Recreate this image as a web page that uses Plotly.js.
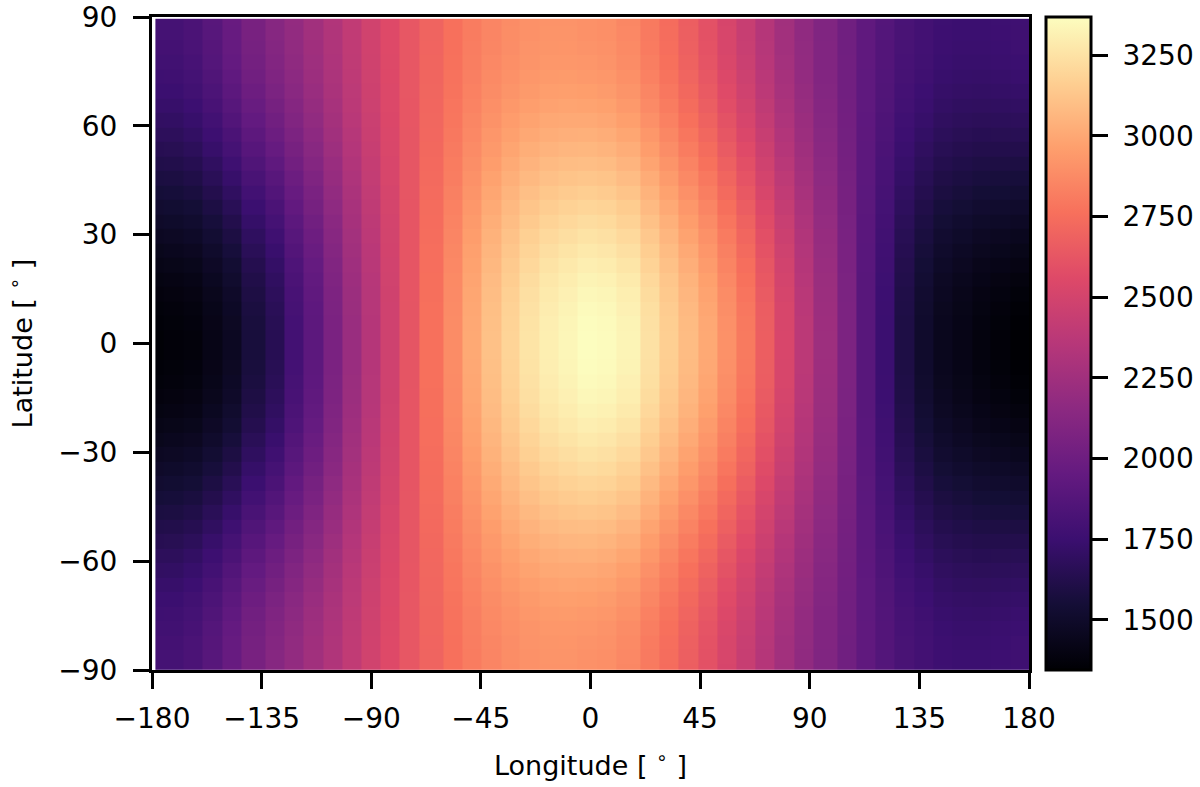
<!DOCTYPE html>
<html>
<head>
<meta charset="utf-8">
<script src="https://cdn.plot.ly/plotly-3.0.1.min.js"></script>
<style>html, body {margin: 0; padding: 0; background: white}</style>
</head>
<body>
<div id="plot" style="width:1200px;height:787px"></div>
<script>
// cell edges in degrees (a few cells are wider than the rest)
const lonEdges = [-178.6,-175.4,-167.2,-159.4,-151.1,-143.3,-133.5,-125.7,-117.9,-109.7,-101.9,-94.1,-86.3,-78.5,-70.3,-60.4,-52.6,-44.8,-36.6,-29.2,-21.0,-13.2,-5.4,2.8,10.6,20.4,28.2,36.0,44.2,52.0,59.8,67.6,75.4,83.6,91.4,101.3,109.1,116.9,124.7,132.9,140.7,148.5,156.7,164.1,172.3,180]
const latEdges = [-90,-88.5,-84.5,-80.5,-76.5,-72.5,-68.5,-64.5,-60.5,-56.5,-52.5,-48.5,-44.5,-40.5,-36.5,-32.5,-28.5,-24.5,-20.5,-16.5,-12.5,-8.5,-4.5,-0.5,3.5,7.5,11.5,15.5,19.5,23.5,27.5,31.5,35.5,39.5,43.5,47.5,51.5,55.5,59.5,63.5,67.5,71.5,75.5,79.5,83.5,87.5,89.5]

// temperature per latitude band, the map is mirrored about the equator
const lat89 = [1800,1800,1831,1891,1972,2053,2124,2185,2255,2326,2407,2488,2559,2630,2700,2761,2812,2852,2882,2903,2913,2913,2903,2893,2862,2802,2741,2670,2599,2518,2437,2346,2255,2174,2094,2013,1932,1871,1820,1790,1760,1750,1750,1760,1770]
const lat86 = [1798,1798,1829,1889,1969,2051,2122,2183,2253,2325,2406,2487,2559,2630,2700,2762,2813,2853,2884,2905,2915,2915,2905,2895,2864,2804,2743,2672,2601,2520,2439,2348,2256,2175,2095,2013,1932,1870,1819,1789,1758,1748,1748,1758,1768]
const lat82 = [1792,1792,1822,1882,1962,2044,2115,2177,2248,2321,2403,2485,2557,2630,2701,2763,2816,2857,2888,2910,2920,2921,2912,2902,2871,2810,2749,2678,2607,2525,2444,2352,2260,2178,2097,2014,1931,1869,1816,1785,1754,1744,1743,1752,1762]
const lat78 = [1781,1781,1811,1871,1950,2032,2104,2168,2240,2315,2399,2482,2556,2630,2703,2766,2820,2863,2895,2918,2930,2931,2923,2913,2882,2821,2759,2688,2616,2535,2453,2360,2267,2183,2100,2016,1930,1866,1810,1778,1746,1736,1734,1743,1752]
const lat74 = [1766,1767,1796,1855,1934,2016,2088,2155,2229,2306,2392,2477,2553,2629,2705,2770,2827,2871,2905,2930,2943,2945,2938,2928,2897,2836,2773,2702,2630,2547,2465,2371,2276,2189,2105,2018,1929,1862,1803,1768,1736,1725,1722,1730,1738]
const lat70 = [1748,1749,1778,1835,1913,1996,2068,2139,2215,2295,2385,2471,2550,2629,2707,2775,2834,2882,2918,2944,2959,2963,2957,2947,2916,2854,2791,2719,2646,2563,2480,2384,2287,2198,2110,2020,1927,1857,1794,1757,1723,1711,1707,1714,1720]
const lat66 = [1727,1728,1756,1813,1889,1973,2045,2120,2198,2283,2375,2465,2546,2628,2710,2781,2844,2894,2932,2961,2978,2983,2980,2970,2939,2875,2811,2738,2666,2582,2497,2399,2300,2207,2117,2023,1925,1851,1783,1743,1708,1695,1690,1695,1700]
const lat62 = [1702,1704,1731,1786,1861,1946,2019,2098,2179,2268,2365,2457,2541,2628,2713,2788,2854,2908,2949,2981,3000,3007,3005,2995,2964,2900,2835,2761,2688,2603,2517,2417,2315,2219,2125,2026,1923,1844,1771,1728,1691,1677,1670,1673,1676]
const lat58 = [1675,1678,1703,1758,1830,1917,1990,2074,2158,2252,2353,2448,2536,2627,2717,2795,2866,2923,2967,3002,3024,3032,3034,3024,2993,2927,2860,2787,2713,2626,2540,2437,2332,2231,2134,2030,1920,1837,1758,1710,1672,1656,1647,1649,1651]
const lat54 = [1646,1650,1674,1727,1797,1886,1960,2049,2136,2235,2341,2439,2531,2626,2721,2803,2878,2939,2987,3025,3049,3060,3063,3053,3022,2956,2888,2813,2739,2651,2563,2458,2349,2244,2143,2034,1918,1829,1743,1692,1652,1635,1624,1624,1623]
const lat50 = [1616,1620,1643,1695,1763,1853,1927,2022,2113,2217,2328,2429,2526,2625,2725,2811,2891,2956,3008,3049,3076,3089,3095,3085,3054,2986,2917,2841,2766,2677,2588,2480,2368,2258,2152,2038,1915,1821,1728,1673,1630,1612,1599,1597,1594]
const lat46 = [1585,1590,1611,1662,1728,1819,1894,1994,2089,2199,2314,2419,2520,2625,2729,2819,2905,2974,3029,3074,3103,3118,3128,3118,3087,3017,2946,2870,2795,2704,2613,2502,2387,2272,2162,2042,1912,1813,1713,1653,1608,1589,1574,1569,1565]
const lat42 = [1554,1560,1579,1629,1693,1785,1861,1967,2065,2181,2301,2410,2514,2624,2734,2828,2918,2992,3050,3098,3130,3148,3160,3150,3119,3048,2976,2899,2823,2731,2638,2525,2406,2286,2172,2046,1909,1804,1697,1634,1587,1566,1549,1542,1535]
const lat38 = [1524,1530,1548,1596,1658,1752,1828,1940,2041,2163,2288,2400,2509,2623,2738,2836,2931,3009,3071,3123,3158,3177,3192,3182,3151,3078,3005,2928,2851,2757,2664,2547,2425,2300,2182,2050,1907,1796,1682,1614,1565,1543,1523,1515,1506]
const lat34 = [1494,1501,1518,1565,1624,1720,1797,1914,2019,2145,2275,2390,2503,2622,2742,2844,2944,3026,3091,3146,3184,3205,3222,3212,3181,3108,3033,2955,2877,2782,2688,2569,2443,2313,2191,2054,1904,1788,1667,1596,1544,1521,1499,1489,1478]
const lat30 = [1466,1474,1489,1535,1592,1689,1767,1889,1997,2129,2263,2381,2498,2622,2746,2852,2956,3042,3110,3169,3209,3232,3252,3242,3211,3136,3060,2981,2903,2807,2711,2589,2460,2326,2200,2058,1901,1780,1653,1578,1524,1499,1476,1464,1451]
const lat26 = [1440,1449,1463,1507,1563,1661,1739,1866,1977,2113,2252,2373,2494,2621,2749,2859,2967,3056,3128,3189,3231,3256,3279,3269,3238,3162,3084,3005,2926,2829,2732,2608,2476,2338,2208,2061,1899,1773,1641,1561,1506,1480,1455,1441,1427]
const lat22 = [1417,1426,1439,1482,1537,1636,1715,1845,1959,2100,2242,2366,2489,2621,2752,2865,2977,3070,3143,3207,3252,3279,3303,3293,3262,3185,3107,3027,2947,2849,2751,2625,2490,2349,2215,2065,1897,1767,1629,1547,1490,1463,1436,1420,1404]
const lat18 = [1397,1406,1418,1461,1514,1614,1693,1828,1944,2088,2233,2359,2486,2620,2755,2871,2986,3081,3157,3223,3270,3298,3324,3314,3283,3205,3126,3046,2966,2866,2767,2639,2502,2358,2222,2067,1895,1761,1619,1534,1476,1448,1420,1403,1385]
const lat14 = [1381,1391,1402,1444,1496,1597,1676,1813,1931,2079,2226,2354,2483,2620,2757,2875,2993,3090,3168,3236,3284,3313,3341,3331,3300,3221,3141,3061,2980,2880,2780,2651,2512,2365,2227,2069,1893,1757,1611,1524,1465,1436,1407,1388,1370]
const lat10 = [1368,1378,1389,1430,1481,1583,1662,1802,1921,2071,2221,2350,2480,2619,2759,2878,2998,3097,3177,3246,3295,3325,3354,3344,3313,3234,3153,3073,2992,2891,2791,2660,2520,2371,2231,2071,1892,1754,1605,1515,1455,1426,1396,1377,1358]
const lat6 = [1360,1370,1380,1421,1472,1573,1653,1794,1915,2066,2217,2348,2479,2619,2760,2881,3002,3102,3183,3253,3303,3333,3363,3353,3322,3242,3161,3080,3000,2899,2798,2666,2525,2375,2233,2072,1891,1751,1600,1510,1449,1420,1389,1369,1350]
const lat2 = [1355,1365,1375,1416,1466,1568,1648,1790,1911,2063,2215,2346,2478,2619,2761,2882,3004,3105,3186,3257,3307,3338,3368,3358,3327,3247,3166,3085,3004,2903,2802,2670,2528,2377,2235,2073,1891,1750,1598,1507,1446,1416,1385,1365,1345]

// south to north
const temperature = [
  lat89, lat86, lat82, lat78, lat74, lat70, lat66, lat62, lat58, lat54, lat50, lat46,
  lat42, lat38, lat34, lat30, lat26, lat22, lat18, lat14, lat10, lat6, lat2,
  lat2, lat6, lat10, lat14, lat18, lat22, lat26, lat30, lat34, lat38, lat42,
  lat46, lat50, lat54, lat58, lat62, lat66, lat70, lat74, lat78, lat82, lat86, lat89
]

const lonTicks = [-180, -135, -90, -45, 0, 45, 90, 135, 180]
const latTicks = [-90, -60, -30, 0, 30, 60, 90]
const cbarTicks = [1500, 1750, 2000, 2250, 2500, 2750, 3000, 3250]
// leading nbsp: plotly has no padding option for colorbar labels
const cbarLabels = ["\u00a01500", "\u00a01750", "\u00a02000", "\u00a02250", "\u00a02500", "\u00a02750", "\u00a03000", "\u00a03250"]
const zMin = 1345
const zMax = 3368

const magma = [
  [0, "#000004"], [0.1, "#140e36"], [0.2, "#3b0f70"], [0.3, "#641a80"], [0.4, "#8c2981"], [0.5, "#b73779"],
  [0.6, "#de4968"], [0.7, "#f7705c"], [0.8, "#fe9f6d"], [0.9, "#fecf92"], [1, "#fcfdbf"]
]

const tickFont = {family: "DejaVu Sans", size: 28, color: "black"}
const titleFont = {family: "DejaVu Sans", size: 27, color: "black"}

const axisStyle = {
  showline: true, mirror: true, linecolor: "black", linewidth: 3,
  ticks: "outside", ticklen: 16, tickwidth: 3, tickcolor: "black",
  showgrid: false, zeroline: false, tickfont: tickFont, tickmode: "array"
}

const data = [{
  type: "heatmap",
  x: lonEdges, y: latEdges, z: temperature,
  zmin: zMin, zmax: zMax, colorscale: magma,
  colorbar: {
    x: 1.0194, xanchor: "left", xpad: 0, ypad: 0, y: 0.5, yanchor: "middle", len: 1,
    thickness: 45, outlinewidth: 3, outlinecolor: "black",
    ticks: "outside", ticklen: 16, tickwidth: 3, tickcolor: "black",
    tickmode: "array", tickvals: cbarTicks, ticktext: cbarLabels, tickfont: tickFont
  }
}]

const layout = {
  width: 1200, height: 787,
  margin: {l: 152, r: 171, t: 17, b: 117, pad: 0, autoexpand: false},
  paper_bgcolor: "white", plot_bgcolor: "white",
  font: {family: "DejaVu Sans"},
  xaxis: {...axisStyle, range: [-180, 180], tickvals: lonTicks, ticklabelstandoff: 5, title: {text: "Longitude [ <sup>∘</sup> ]", font: titleFont, standoff: 23}},
  yaxis: {...axisStyle, range: [-90, 90], tickvals: latTicks, ticklabelstandoff: 10, title: {text: "Latitude [ <sup>∘</sup> ]", font: titleFont, standoff: 18}}
}

Plotly.newPlot("plot", data, layout, {displayModeBar: false})
</script>
</body>
</html>
